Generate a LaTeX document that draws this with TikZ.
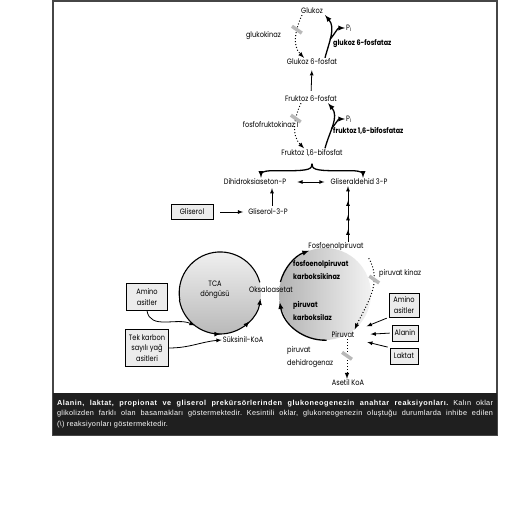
\documentclass[tikz,border=0pt]{standalone}
\usepackage{fontspec}
\setmainfont{Poppins}[FakeStretch=0.85]
\newfontfamily\capfont{Liberation Sans}
\usetikzlibrary{calc,decorations.markings}
\tikzset{
  >={latex},
  every node/.style={font=\fontsize{7.8}{8}\selectfont, inner sep=1pt},
  enz/.style={font=\fontsize{7.6}{12.5}\selectfont\bfseries, align=left, anchor=west},
  src/.style={draw, fill=gray!15, line width=0.8pt, align=center, inner sep=2pt,
    font=\fontsize{7.8}{10.5}\selectfont},
  thk/.style={->, line width=1.3pt},
  thn/.style={->, line width=0.8pt},
  dots/.style={->, line width=1pt, dotted},
  inhib/.style={fill=gray!55, minimum width=12pt, minimum height=3.5pt, inner sep=0pt, rotate=-35},
  stepchain/.style={thn, postaction={decorate}, decoration={markings,
    mark=at position 0.22 with {\arrow{>}},
    mark=at position 0.48 with {\arrow{>}},
    mark=at position 0.74 with {\arrow{>}}}},
  tcaflow/.style={->, line width=1.1pt, postaction={decorate}, decoration={markings,
    mark=at position 0.5 with {\arrow{>}},
    mark=at position 0.78 with {\arrow{>}}}}
}

\begin{document}
\begin{tikzpicture}[x=1pt,y=1pt]
  \useasboundingbox (0,0) rectangle (512,507);
  \draw[line width=1.6pt, gray!55!black] (53,72) rectangle (497,506);
  \fill[black!88] (53,72) rectangle (497,114);

  % cycles
  \node[circle, minimum size=82pt, inner sep=0pt, top color=gray!12, bottom color=gray!55] (tca) at (220,214) {};
  \node[circle, minimum size=92pt, inner sep=0pt, left color=gray!60, right color=gray!10] (ring) at (325,213) {};

  % metabolites
  \node (glc) at (312,496) {Glukoz};
  \node (g6p) at (312,445) {Glukoz 6-fosfat};
  \node (f6p) at (311,408) {Fruktoz 6-fosfat};
  \node (f16bp) at (312,354) {Fruktoz 1,6-bifosfat};
  \node (dhap) at (255,325) {Dihidroksiaseton-P};
  \node (gap) at (359,325) {Gliseraldehid 3-P};
  \node (g3p) at (268,295) {Gliserol-3-P};
  \node (pep) at (336,260) {Fosfoenolpiruvat};
  \node (oaa) at (271,217) {Oksaloasetat};
  \node (pyr) at (343,172) {Piruvat};
  \node (acoa) at (348,124) {Asetil KoA};
  \node (succ) at (243,167) {Süksinil-KoA};
  \node[align=center, font=\fontsize{7.8}{10}\selectfont] (tcalbl) at (215,217) {TCA\\döngüsü};

  % enzymes
  \node[anchor=east] (gk) at (282,471) {glukokinaz};
  \node[anchor=east] (pfk) at (300,382) {fosfofruktokinaz 1};
  \node[enz] (g6pase) at (332,463) {glukoz 6-fosfataz};
  \node[enz] (fbpase) at (332,376) {fruktoz 1,6-bifosfataz};
  \node[anchor=west] (pi1) at (345,479) {P\textsubscript{i}};
  \node[anchor=west] (pi2) at (345,388) {P\textsubscript{i}};
  \node[enz] (pepck) at (292,237) {fosfoenolpiruvat\\karboksikinaz};
  \node[enz] (pc) at (292,196) {piruvat\\karboksilaz};
  \node[anchor=west] (pk) at (378,233) {piruvat kinaz};
  \node[anchor=west, align=left, font=\fontsize{7.8}{12.5}\selectfont] (pdh) at (286,150) {piruvat\\dehidrogenaz};

  % precursors
  \node[src, minimum width=42pt, minimum height=15pt] (gly) at (192,295) {Gliserol};
  \node[src, minimum width=41pt, minimum height=27pt] (aa1) at (147,210) {Amino\\asitler};
  \node[src, minimum width=43pt, minimum height=37pt] (oddfa) at (147,159) {Tek karbon\\sayılı yağ\\asitleri};
  \node[src, minimum width=30pt, minimum height=24pt] (aa2) at (404,202) {Amino\\asitler};
  \node[src, minimum width=26pt, minimum height=16pt] (ala) at (405,174) {Alanin};
  \node[src, minimum width=28pt, minimum height=16pt] (lac) at (404,151) {Laktat};

  % glukoz <-> glukoz 6-fosfat
  \draw[dots] ([xshift=-10pt]glc.south) to[out=-115,in=135] node[inhib, pos=0.32] {} ([xshift=-8pt]g6p.north);
  \draw[thk] ([xshift=13pt]g6p.north) to[out=75,in=-50] coordinate[pos=0.4] (fk1) ([xshift=1pt]glc.south east);
  \draw[thk] (fk1) to[out=50,in=180] (pi1.west);
  \draw[thn, shorten <=4pt, shorten >=4pt] (f6p.north) -- (g6p.south);

  % fruktoz 6-fosfat <-> fruktoz 1,6-bifosfat
  \draw[dots] ([xshift=-10pt]f6p.south) to[out=-115,in=135] node[inhib, pos=0.32] {} ([xshift=-8pt]f16bp.north);
  \draw[thk] ([xshift=13pt]f16bp.north) to[out=75,in=-50] coordinate[pos=0.4] (fk2) ([xshift=-10pt]f6p.south east);
  \draw[thk] (fk2) to[out=50,in=180] (pi2.west);

  \coordinate (split) at ([yshift=-6pt]f16bp.south);
  \draw[thk] (split) .. controls +(0,-5) and +(22,0) .. ++(-24,-7) -- ++(-18,0) .. controls +(-6,0) and +(0,4) .. ([xshift=6pt]dhap.north);
  \draw[thk] (split) .. controls +(0,-5) and +(-22,0) .. ++(24,-7) -- ++(18,0) .. controls +(6,0) and +(0,4) .. ([xshift=4pt]gap.north);

  \draw[thn, <->, shorten <=10pt, shorten >=5pt] (dhap.east) -- (gap.west);
  \draw[thn, shorten <=2pt, shorten >=2pt] ([xshift=4pt]g3p.north) -- ([xshift=4pt]g3p.north |- dhap.south);
  \draw[thn, shorten <=7pt, shorten >=4pt] (gly.east) -- (g3p.west);
  \draw[stepchain] ([xshift=12pt]pep.north) -- ([xshift=12pt]pep.north |- gap.south);

  % piruvat - oksaloasetat - fosfoenolpiruvat
  \draw[thk] (ring.165) arc[start angle=165, end angle=110, radius=46pt];
  \draw[thk] (ring.272) arc[start angle=272, end angle=190, radius=46pt];
  \draw[dots] ([xshift=4pt,yshift=-6pt]pep.south east) to[out=-60,in=65] node[inhib, pos=0.3] {} (ring.-50);
  \draw[dots] ([xshift=4pt]pyr.south) -- node[inhib, pos=0.42] {} ([xshift=4pt]pyr.south |- acoa.north);

  % TCA
  \draw[line width=1.1pt] (tca.15) arc[start angle=15, end angle=190, radius=41pt];
  \draw[tcaflow] (tca.190) arc[start angle=190, end angle=352, radius=41pt];

  \draw[thn] (aa1.south) to[out=-80,in=155] (tca.232);
  \draw[thn] (oddfa.east) to[out=0,in=185] (succ.west);
  \draw[thn, shorten <=2pt, shorten >=12pt] (aa2.south west) -- (pyr.north east);
  \draw[thn, shorten <=2pt, shorten >=15pt] (ala.west) -- (pyr.east);
  \draw[thn, shorten <=2pt, shorten >=12pt] (lac.north west) -- (pyr.south east);

  \node[text width=436pt, align=justify, text=white, inner sep=0pt,
    font=\capfont\fontsize{7.3}{10.5}\selectfont\frenchspacing\addfontfeature{LetterSpace=4}] (cap) at (275,93)
    {{\bfseries\addfontfeature{LetterSpace=7}Alanin, laktat, propionat ve gliserol prekürsörlerinden glukoneogenezin anahtar reaksiyonları.} Kalın oklar\linebreak
     glikolizden farklı olan basamakları göstermektedir. Kesintili oklar, glukoneogenezin oluştuğu durumlarda inhibe edilen\linebreak
     (\textbackslash) reaksiyonları göstermektedir.};
\end{tikzpicture}
\end{document}
